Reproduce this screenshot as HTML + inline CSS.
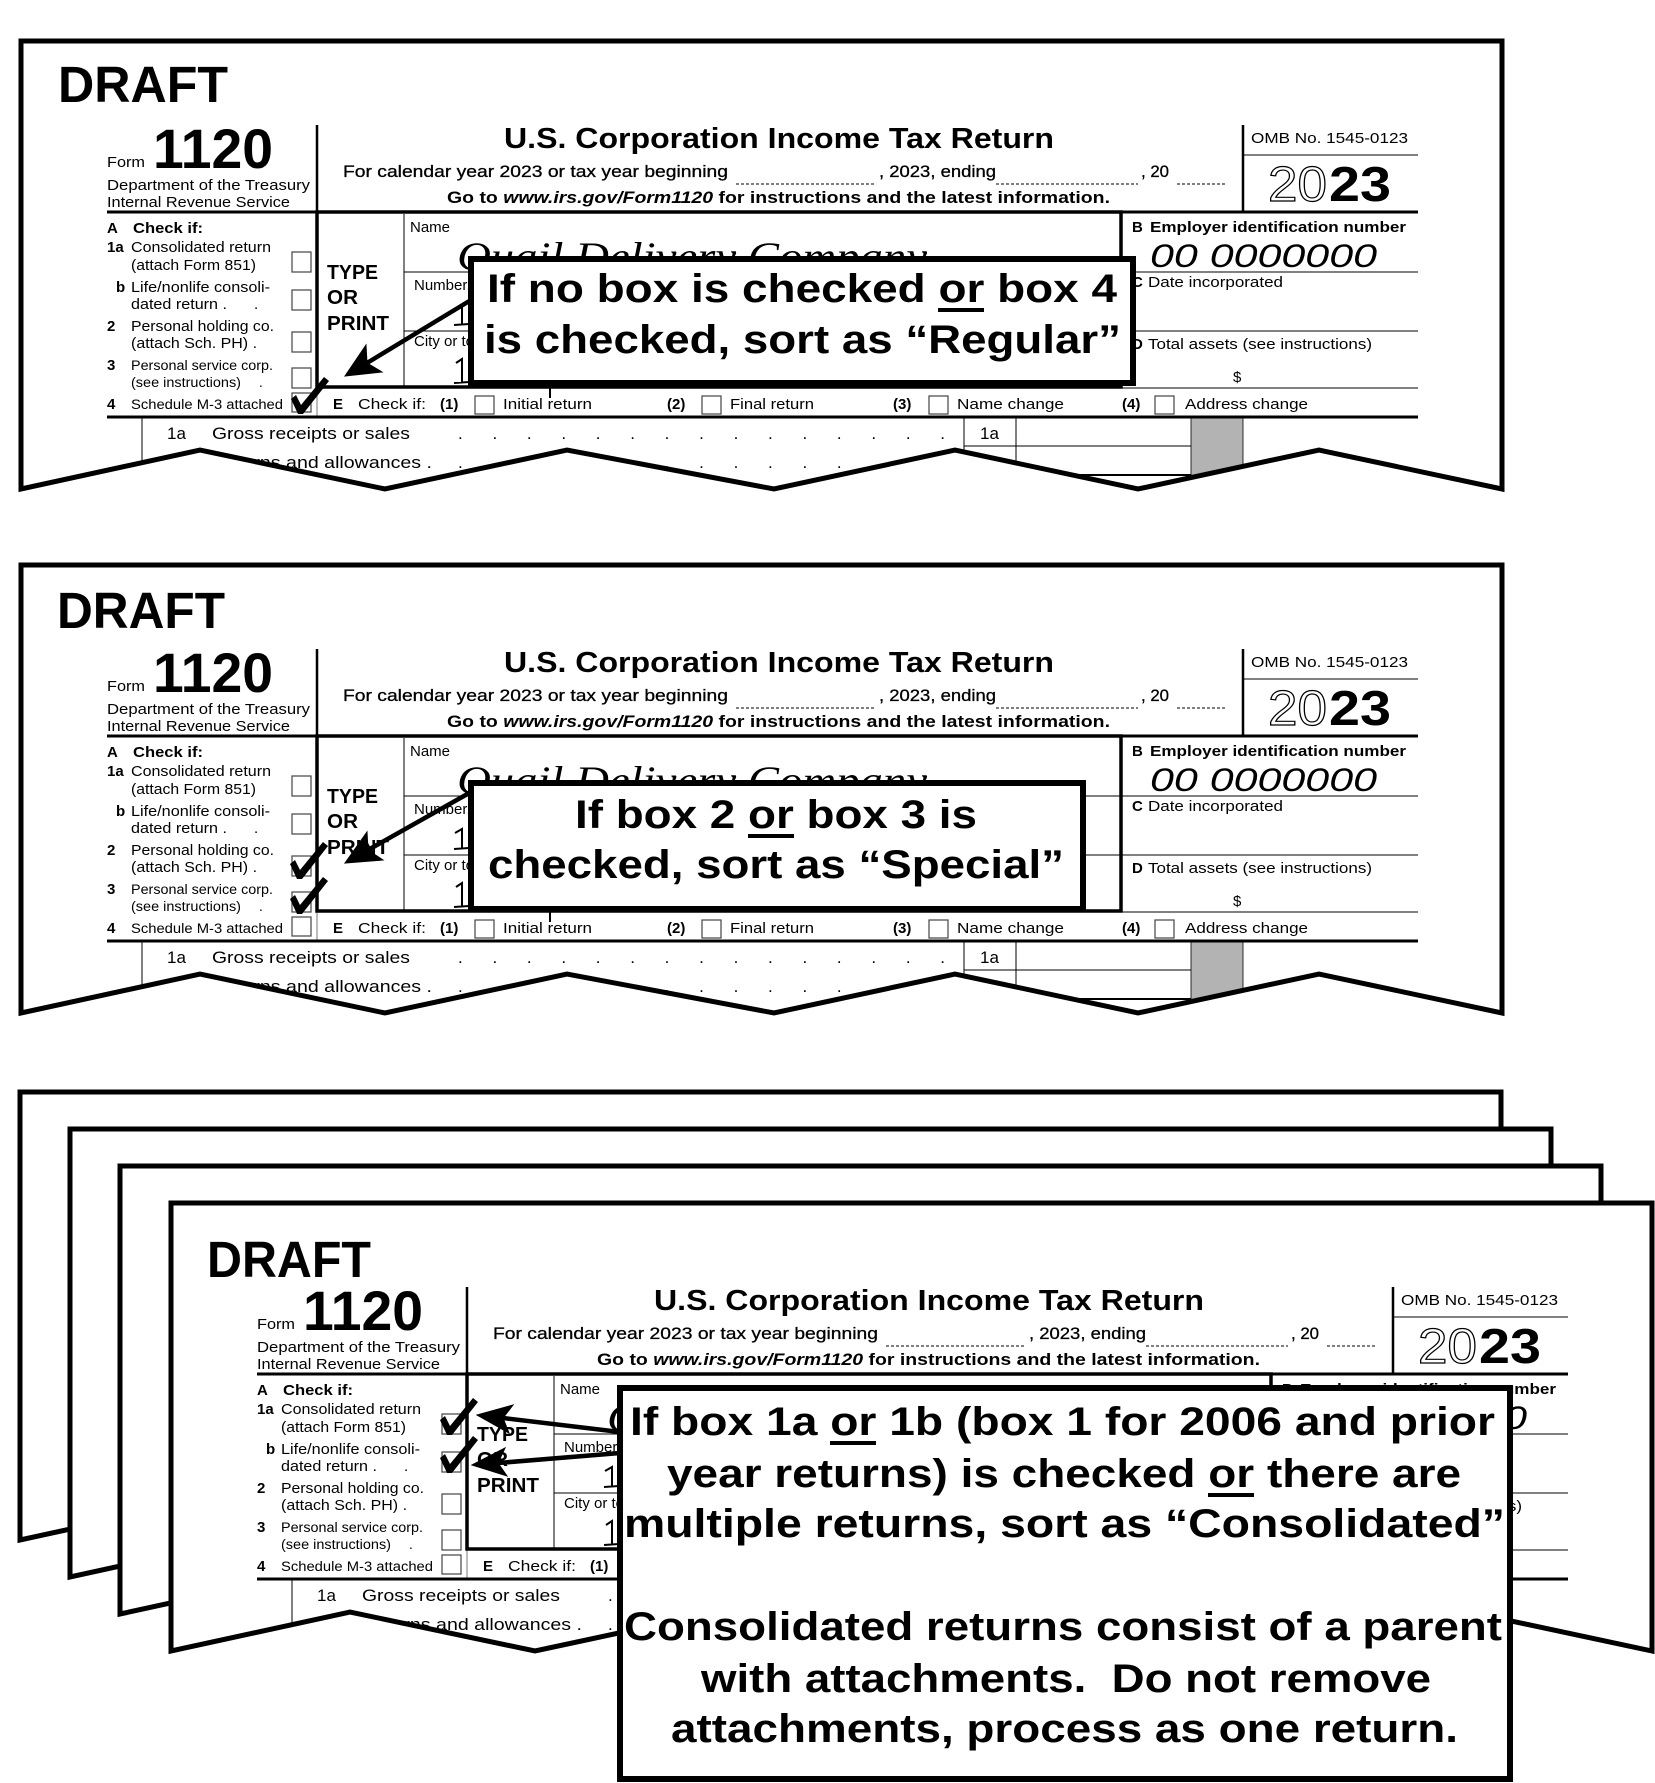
<!DOCTYPE html>
<html>
<head>
<meta charset="utf-8">
<style>
html,body{margin:0;padding:0;background:#fff;}
svg{display:block;}
text{font-family:"Liberation Sans",Arial,sans-serif;fill:#000;}
.hw{font-family:"Liberation Serif",serif;font-style:italic;}
</style>
</head>
<body>
<svg width="1655" height="1783" viewBox="0 0 1655 1783" xmlns="http://www.w3.org/2000/svg">
<defs>
<clipPath id="fc" clipPathUnits="userSpaceOnUse">
<polygon points="21,41 1502,41 1502,489 1319,450 1138,489 955,450 774,489 567,450 385,489 200,450 21,489"/>
</clipPath>
</defs>
<rect x="0" y="0" width="1655" height="1783" fill="#fff"/>

<!-- ================= FRAME 1 ================= -->
<g>
<polygon points="21,41 1502,41 1502,489 1319,450 1138,489 955,450 774,489 567,450 385,489 200,450 21,489" fill="#fff"/>
<g clip-path="url(#fc)">
<text x="107" y="167" font-size="15" textLength="38" lengthAdjust="spacingAndGlyphs">Form</text>
<text x="153" y="168" font-size="56" font-weight="bold" textLength="120" lengthAdjust="spacingAndGlyphs">1120</text>
<text x="107" y="190" font-size="15" textLength="203" lengthAdjust="spacingAndGlyphs">Department of the Treasury</text>
<text x="107" y="207" font-size="15" textLength="183" lengthAdjust="spacingAndGlyphs">Internal Revenue Service</text>
<text x="504" y="148" font-size="29" font-weight="bold" textLength="550" lengthAdjust="spacingAndGlyphs">U.S. Corporation Income Tax Return</text>
<text x="343" y="177" font-size="17" stroke="#000" stroke-width="0.3" textLength="385" lengthAdjust="spacingAndGlyphs">For calendar year 2023 or tax year beginning</text>
<text x="879" y="177" font-size="17" stroke="#000" stroke-width="0.3" textLength="117" lengthAdjust="spacingAndGlyphs">, 2023, ending</text>
<text x="1141" y="177" font-size="17" stroke="#000" stroke-width="0.3" textLength="28" lengthAdjust="spacingAndGlyphs">, 20</text>
<text x="447" y="203" font-size="17" font-weight="bold" textLength="663" lengthAdjust="spacingAndGlyphs">Go to <tspan font-style="italic">www.irs.gov/Form1120</tspan> for instructions and the latest information.</text>
<text x="1251" y="143" font-size="15" textLength="157" lengthAdjust="spacingAndGlyphs">OMB No. 1545-0123</text>
<text x="1268" y="201" font-size="49" stroke="#000" stroke-width="1.2" style="fill:#fff" textLength="59" lengthAdjust="spacingAndGlyphs">20</text>
<text x="1329" y="201" font-size="49" font-weight="bold" textLength="62" lengthAdjust="spacingAndGlyphs">23</text>
<g fill="none" stroke="#000">
<line x1="317" y1="125" x2="317" y2="212" stroke-width="2.5"/>
<line x1="1243" y1="125" x2="1243" y2="212" stroke-width="2.5"/>
<line x1="1243" y1="155" x2="1418" y2="155" stroke-width="1"/>
<line x1="736" y1="184" x2="876" y2="184" stroke-width="1" stroke-dasharray="3 2"/>
<line x1="996" y1="184" x2="1138" y2="184" stroke-width="1" stroke-dasharray="3 2"/>
<line x1="1177" y1="184" x2="1225" y2="184" stroke-width="1" stroke-dasharray="3 2"/>
<line x1="107" y1="212" x2="1418" y2="212" stroke-width="3"/>
</g>
<text x="107" y="233" font-size="15" font-weight="bold">A</text>
<text x="133" y="233" font-size="15" font-weight="bold" textLength="70" lengthAdjust="spacingAndGlyphs">Check if:</text>
<text x="107" y="252" font-size="15" font-weight="bold">1a</text>
<text x="131" y="252" font-size="15" textLength="140" lengthAdjust="spacingAndGlyphs">Consolidated return</text>
<text x="131" y="270" font-size="15" textLength="125" lengthAdjust="spacingAndGlyphs">(attach Form 851)</text>
<text x="116" y="292" font-size="15" font-weight="bold">b</text>
<text x="131" y="292" font-size="15" textLength="139" lengthAdjust="spacingAndGlyphs">Life/nonlife consoli-</text>
<text x="131" y="309" font-size="15" textLength="96" lengthAdjust="spacingAndGlyphs">dated return .</text>
<text x="254" y="309" font-size="15">.</text>
<text x="107" y="331" font-size="15" font-weight="bold">2</text>
<text x="131" y="331" font-size="15" textLength="143" lengthAdjust="spacingAndGlyphs">Personal holding co.</text>
<text x="131" y="348" font-size="15" textLength="126" lengthAdjust="spacingAndGlyphs">(attach Sch. PH) .</text>
<text x="107" y="370" font-size="15" font-weight="bold">3</text>
<text x="131" y="370" font-size="13.5" textLength="142" lengthAdjust="spacingAndGlyphs">Personal service corp.</text>
<text x="131" y="387" font-size="13.5" textLength="110" lengthAdjust="spacingAndGlyphs">(see instructions)</text>
<text x="259" y="387" font-size="13.5">.</text>
<text x="107" y="409" font-size="15" font-weight="bold">4</text>
<text x="131" y="409" font-size="13.5" textLength="152" lengthAdjust="spacingAndGlyphs">Schedule M-3 attached</text>
<g fill="none" stroke="#444" stroke-width="1.2">
<rect x="292" y="252" width="19" height="20"/>
<rect x="292" y="290" width="19" height="20"/>
<rect x="292" y="332" width="19" height="20"/>
<rect x="292" y="368" width="19" height="20"/>
<rect x="292" y="393" width="19" height="19"/>
<rect x="475" y="396" width="19" height="18"/>
<rect x="702" y="396" width="19" height="18"/>
<rect x="929" y="396" width="19" height="18"/>
<rect x="1155" y="396" width="19" height="18"/>
</g>
<text x="327" y="279" font-size="20" font-weight="bold" textLength="51" lengthAdjust="spacingAndGlyphs">TYPE</text>
<text x="327" y="304" font-size="20" font-weight="bold" textLength="31" lengthAdjust="spacingAndGlyphs">OR</text>
<text x="327" y="330" font-size="20" font-weight="bold" textLength="62" lengthAdjust="spacingAndGlyphs">PRINT</text>
<text x="410" y="232" font-size="15">Name</text>
<text class="hw" x="457" y="270" font-size="40" textLength="470" lengthAdjust="spacingAndGlyphs">Quail Delivery Company</text>
<text x="414" y="290" font-size="15">Number, street, and room or suite no.</text>
<text x="414" y="346" font-size="15">City or town, state or province</text>
<text x="1132" y="232" font-size="15" font-weight="bold">B</text>
<text x="1150" y="232" font-size="15" font-weight="bold" textLength="256" lengthAdjust="spacingAndGlyphs">Employer identification number</text>
<text x="1150" y="267" font-size="32" font-style="italic" textLength="227" lengthAdjust="spacingAndGlyphs">00 0000000</text>
<text x="1132" y="287" font-size="15" font-weight="bold">C</text>
<text x="1148" y="287" font-size="15" textLength="135" lengthAdjust="spacingAndGlyphs">Date incorporated</text>
<text x="1132" y="349" font-size="15" font-weight="bold">D</text>
<text x="1148" y="349" font-size="15" textLength="224" lengthAdjust="spacingAndGlyphs">Total assets (see instructions)</text>
<text x="1233" y="382" font-size="15">$</text>
<text x="333" y="409" font-size="15" font-weight="bold">E</text>
<text x="358" y="409" font-size="15" textLength="68" lengthAdjust="spacingAndGlyphs">Check if:</text>
<text x="440" y="409" font-size="15" font-weight="bold">(1)</text>
<text x="503" y="409" font-size="15" textLength="89" lengthAdjust="spacingAndGlyphs">Initial return</text>
<text x="667" y="409" font-size="15" font-weight="bold">(2)</text>
<text x="730" y="409" font-size="15" textLength="84" lengthAdjust="spacingAndGlyphs">Final return</text>
<text x="893" y="409" font-size="15" font-weight="bold">(3)</text>
<text x="957" y="409" font-size="15" textLength="107" lengthAdjust="spacingAndGlyphs">Name change</text>
<text x="1122" y="409" font-size="15" font-weight="bold">(4)</text>
<text x="1185" y="409" font-size="15" textLength="123" lengthAdjust="spacingAndGlyphs">Address change</text>
<text x="167" y="439" font-size="17">1a</text>
<text x="212" y="439" font-size="17" textLength="198" lengthAdjust="spacingAndGlyphs">Gross receipts or sales</text>
<text x="458" y="439" font-size="17" textLength="487" lengthAdjust="spacing">. . . . . . . . . . . . . . .</text>
<text x="980" y="439" font-size="17">1a</text>
<text x="167" y="468" font-size="17">b</text>
<text x="212" y="468" font-size="17" textLength="220" lengthAdjust="spacingAndGlyphs">Returns and allowances .</text>
<text x="458" y="468" font-size="17" textLength="487" lengthAdjust="spacing">. . . . . . . . . . . . . . .</text>
<rect x="1191" y="418" width="52" height="80" fill="#b3b3b3" stroke="#000" stroke-width="0.8"/>
<g fill="none" stroke="#000">
<line x1="317" y1="388" x2="317" y2="417" stroke="#777" stroke-width="1"/>
<rect x="317" y="212" width="804" height="175" stroke-width="3.5"/>
<line x1="404" y1="214" x2="404" y2="386" stroke-width="1"/>
<line x1="404" y1="272" x2="1121" y2="272" stroke-width="1"/>
<line x1="404" y1="331" x2="1121" y2="331" stroke-width="1"/>
<line x1="1121" y1="272" x2="1418" y2="272" stroke-width="1"/>
<line x1="1121" y1="331" x2="1418" y2="331" stroke-width="1"/>
<line x1="1121" y1="388" x2="1418" y2="388" stroke-width="1"/>
<line x1="107" y1="417" x2="1418" y2="417" stroke-width="3"/>
<line x1="142" y1="418" x2="142" y2="495" stroke-width="1"/>
<line x1="964" y1="418" x2="964" y2="495" stroke-width="1"/>
<line x1="1016" y1="418" x2="1016" y2="495" stroke-width="1"/>
<line x1="964" y1="446" x2="1191" y2="446" stroke-width="1"/>
<line x1="1016" y1="475" x2="1191" y2="475" stroke-width="2"/>
<path d="M455,309 L462,305 L462,324 M454,325 L469,324 M456,363 L462,359 L462,382 M454,383 L469,382" stroke-width="2"/>
<line x1="550" y1="386" x2="550" y2="398" stroke-width="2"/>
</g>
</g>
<text x="58" y="102" font-size="51" font-weight="bold" textLength="170" lengthAdjust="spacingAndGlyphs">DRAFT</text>
<polygon points="21,41 1502,41 1502,489 1319,450 1138,489 955,450 774,489 567,450 385,489 200,450 21,489" fill="none" stroke="#000" stroke-width="5" stroke-linejoin="miter"/>
</g>

<!-- ================= FRAME 2 ================= -->
<g transform="translate(0,524)">
<polygon points="21,41 1502,41 1502,489 1319,450 1138,489 955,450 774,489 567,450 385,489 200,450 21,489" fill="#fff"/>
<g clip-path="url(#fc)">
<text x="107" y="167" font-size="15" textLength="38" lengthAdjust="spacingAndGlyphs">Form</text>
<text x="153" y="168" font-size="56" font-weight="bold" textLength="120" lengthAdjust="spacingAndGlyphs">1120</text>
<text x="107" y="190" font-size="15" textLength="203" lengthAdjust="spacingAndGlyphs">Department of the Treasury</text>
<text x="107" y="207" font-size="15" textLength="183" lengthAdjust="spacingAndGlyphs">Internal Revenue Service</text>
<text x="504" y="148" font-size="29" font-weight="bold" textLength="550" lengthAdjust="spacingAndGlyphs">U.S. Corporation Income Tax Return</text>
<text x="343" y="177" font-size="17" stroke="#000" stroke-width="0.3" textLength="385" lengthAdjust="spacingAndGlyphs">For calendar year 2023 or tax year beginning</text>
<text x="879" y="177" font-size="17" stroke="#000" stroke-width="0.3" textLength="117" lengthAdjust="spacingAndGlyphs">, 2023, ending</text>
<text x="1141" y="177" font-size="17" stroke="#000" stroke-width="0.3" textLength="28" lengthAdjust="spacingAndGlyphs">, 20</text>
<text x="447" y="203" font-size="17" font-weight="bold" textLength="663" lengthAdjust="spacingAndGlyphs">Go to <tspan font-style="italic">www.irs.gov/Form1120</tspan> for instructions and the latest information.</text>
<text x="1251" y="143" font-size="15" textLength="157" lengthAdjust="spacingAndGlyphs">OMB No. 1545-0123</text>
<text x="1268" y="201" font-size="49" stroke="#000" stroke-width="1.2" style="fill:#fff" textLength="59" lengthAdjust="spacingAndGlyphs">20</text>
<text x="1329" y="201" font-size="49" font-weight="bold" textLength="62" lengthAdjust="spacingAndGlyphs">23</text>
<g fill="none" stroke="#000">
<line x1="317" y1="125" x2="317" y2="212" stroke-width="2.5"/>
<line x1="1243" y1="125" x2="1243" y2="212" stroke-width="2.5"/>
<line x1="1243" y1="155" x2="1418" y2="155" stroke-width="1"/>
<line x1="736" y1="184" x2="876" y2="184" stroke-width="1" stroke-dasharray="3 2"/>
<line x1="996" y1="184" x2="1138" y2="184" stroke-width="1" stroke-dasharray="3 2"/>
<line x1="1177" y1="184" x2="1225" y2="184" stroke-width="1" stroke-dasharray="3 2"/>
<line x1="107" y1="212" x2="1418" y2="212" stroke-width="3"/>
</g>
<text x="107" y="233" font-size="15" font-weight="bold">A</text>
<text x="133" y="233" font-size="15" font-weight="bold" textLength="70" lengthAdjust="spacingAndGlyphs">Check if:</text>
<text x="107" y="252" font-size="15" font-weight="bold">1a</text>
<text x="131" y="252" font-size="15" textLength="140" lengthAdjust="spacingAndGlyphs">Consolidated return</text>
<text x="131" y="270" font-size="15" textLength="125" lengthAdjust="spacingAndGlyphs">(attach Form 851)</text>
<text x="116" y="292" font-size="15" font-weight="bold">b</text>
<text x="131" y="292" font-size="15" textLength="139" lengthAdjust="spacingAndGlyphs">Life/nonlife consoli-</text>
<text x="131" y="309" font-size="15" textLength="96" lengthAdjust="spacingAndGlyphs">dated return .</text>
<text x="254" y="309" font-size="15">.</text>
<text x="107" y="331" font-size="15" font-weight="bold">2</text>
<text x="131" y="331" font-size="15" textLength="143" lengthAdjust="spacingAndGlyphs">Personal holding co.</text>
<text x="131" y="348" font-size="15" textLength="126" lengthAdjust="spacingAndGlyphs">(attach Sch. PH) .</text>
<text x="107" y="370" font-size="15" font-weight="bold">3</text>
<text x="131" y="370" font-size="13.5" textLength="142" lengthAdjust="spacingAndGlyphs">Personal service corp.</text>
<text x="131" y="387" font-size="13.5" textLength="110" lengthAdjust="spacingAndGlyphs">(see instructions)</text>
<text x="259" y="387" font-size="13.5">.</text>
<text x="107" y="409" font-size="15" font-weight="bold">4</text>
<text x="131" y="409" font-size="13.5" textLength="152" lengthAdjust="spacingAndGlyphs">Schedule M-3 attached</text>
<g fill="none" stroke="#444" stroke-width="1.2">
<rect x="292" y="252" width="19" height="20"/>
<rect x="292" y="290" width="19" height="20"/>
<rect x="292" y="332" width="19" height="20"/>
<rect x="292" y="368" width="19" height="20"/>
<rect x="292" y="393" width="19" height="19"/>
<rect x="475" y="396" width="19" height="18"/>
<rect x="702" y="396" width="19" height="18"/>
<rect x="929" y="396" width="19" height="18"/>
<rect x="1155" y="396" width="19" height="18"/>
</g>
<text x="327" y="279" font-size="20" font-weight="bold" textLength="51" lengthAdjust="spacingAndGlyphs">TYPE</text>
<text x="327" y="304" font-size="20" font-weight="bold" textLength="31" lengthAdjust="spacingAndGlyphs">OR</text>
<text x="327" y="330" font-size="20" font-weight="bold" textLength="62" lengthAdjust="spacingAndGlyphs">PRINT</text>
<text x="410" y="232" font-size="15">Name</text>
<text class="hw" x="457" y="270" font-size="40" textLength="470" lengthAdjust="spacingAndGlyphs">Quail Delivery Company</text>
<text x="414" y="290" font-size="15">Number, street, and room or suite no.</text>
<text x="414" y="346" font-size="15">City or town, state or province</text>
<text x="1132" y="232" font-size="15" font-weight="bold">B</text>
<text x="1150" y="232" font-size="15" font-weight="bold" textLength="256" lengthAdjust="spacingAndGlyphs">Employer identification number</text>
<text x="1150" y="267" font-size="32" font-style="italic" textLength="227" lengthAdjust="spacingAndGlyphs">00 0000000</text>
<text x="1132" y="287" font-size="15" font-weight="bold">C</text>
<text x="1148" y="287" font-size="15" textLength="135" lengthAdjust="spacingAndGlyphs">Date incorporated</text>
<text x="1132" y="349" font-size="15" font-weight="bold">D</text>
<text x="1148" y="349" font-size="15" textLength="224" lengthAdjust="spacingAndGlyphs">Total assets (see instructions)</text>
<text x="1233" y="382" font-size="15">$</text>
<text x="333" y="409" font-size="15" font-weight="bold">E</text>
<text x="358" y="409" font-size="15" textLength="68" lengthAdjust="spacingAndGlyphs">Check if:</text>
<text x="440" y="409" font-size="15" font-weight="bold">(1)</text>
<text x="503" y="409" font-size="15" textLength="89" lengthAdjust="spacingAndGlyphs">Initial return</text>
<text x="667" y="409" font-size="15" font-weight="bold">(2)</text>
<text x="730" y="409" font-size="15" textLength="84" lengthAdjust="spacingAndGlyphs">Final return</text>
<text x="893" y="409" font-size="15" font-weight="bold">(3)</text>
<text x="957" y="409" font-size="15" textLength="107" lengthAdjust="spacingAndGlyphs">Name change</text>
<text x="1122" y="409" font-size="15" font-weight="bold">(4)</text>
<text x="1185" y="409" font-size="15" textLength="123" lengthAdjust="spacingAndGlyphs">Address change</text>
<text x="167" y="439" font-size="17">1a</text>
<text x="212" y="439" font-size="17" textLength="198" lengthAdjust="spacingAndGlyphs">Gross receipts or sales</text>
<text x="458" y="439" font-size="17" textLength="487" lengthAdjust="spacing">. . . . . . . . . . . . . . .</text>
<text x="980" y="439" font-size="17">1a</text>
<text x="167" y="468" font-size="17">b</text>
<text x="212" y="468" font-size="17" textLength="220" lengthAdjust="spacingAndGlyphs">Returns and allowances .</text>
<text x="458" y="468" font-size="17" textLength="487" lengthAdjust="spacing">. . . . . . . . . . . . . . .</text>
<rect x="1191" y="418" width="52" height="80" fill="#b3b3b3" stroke="#000" stroke-width="0.8"/>
<g fill="none" stroke="#000">
<line x1="317" y1="388" x2="317" y2="417" stroke="#777" stroke-width="1"/>
<rect x="317" y="212" width="804" height="175" stroke-width="3.5"/>
<line x1="404" y1="214" x2="404" y2="386" stroke-width="1"/>
<line x1="404" y1="272" x2="1121" y2="272" stroke-width="1"/>
<line x1="404" y1="331" x2="1121" y2="331" stroke-width="1"/>
<line x1="1121" y1="272" x2="1418" y2="272" stroke-width="1"/>
<line x1="1121" y1="331" x2="1418" y2="331" stroke-width="1"/>
<line x1="1121" y1="388" x2="1418" y2="388" stroke-width="1"/>
<line x1="107" y1="417" x2="1418" y2="417" stroke-width="3"/>
<line x1="142" y1="418" x2="142" y2="495" stroke-width="1"/>
<line x1="964" y1="418" x2="964" y2="495" stroke-width="1"/>
<line x1="1016" y1="418" x2="1016" y2="495" stroke-width="1"/>
<line x1="964" y1="446" x2="1191" y2="446" stroke-width="1"/>
<line x1="1016" y1="475" x2="1191" y2="475" stroke-width="2"/>
<path d="M455,309 L462,305 L462,324 M454,325 L469,324 M456,363 L462,359 L462,382 M454,383 L469,382" stroke-width="2"/>
<line x1="550" y1="386" x2="550" y2="398" stroke-width="2"/>
</g>
</g>
<text x="57" y="104" font-size="51" font-weight="bold" textLength="168" lengthAdjust="spacingAndGlyphs">DRAFT</text>
<polygon points="21,41 1502,41 1502,489 1319,450 1138,489 955,450 774,489 567,450 385,489 200,450 21,489" fill="none" stroke="#000" stroke-width="5" stroke-linejoin="miter"/>
</g>

<!-- ================= STACK FRAMES A,B,C ================= -->
<polygon transform="translate(-1,1051)" points="21,41 1502,41 1502,489 1319,450 1138,489 955,450 774,489 567,450 385,489 200,450 21,489" fill="#fff" stroke="#000" stroke-width="5"/>
<polygon transform="translate(49,1088)" points="21,41 1502,41 1502,489 1319,450 1138,489 955,450 774,489 567,450 385,489 200,450 21,489" fill="#fff" stroke="#000" stroke-width="5"/>
<polygon transform="translate(99,1125)" points="21,41 1502,41 1502,489 1319,450 1138,489 955,450 774,489 567,450 385,489 200,450 21,489" fill="#fff" stroke="#000" stroke-width="5"/>

<!-- ================= FRAME D ================= -->
<g transform="translate(150,1162)">
<polygon points="21,41 1502,41 1502,489 1319,450 1138,489 955,450 774,489 567,450 385,489 200,450 21,489" fill="#fff"/>
<g clip-path="url(#fc)">
<text x="107" y="167" font-size="15" textLength="38" lengthAdjust="spacingAndGlyphs">Form</text>
<text x="153" y="168" font-size="56" font-weight="bold" textLength="120" lengthAdjust="spacingAndGlyphs">1120</text>
<text x="107" y="190" font-size="15" textLength="203" lengthAdjust="spacingAndGlyphs">Department of the Treasury</text>
<text x="107" y="207" font-size="15" textLength="183" lengthAdjust="spacingAndGlyphs">Internal Revenue Service</text>
<text x="504" y="148" font-size="29" font-weight="bold" textLength="550" lengthAdjust="spacingAndGlyphs">U.S. Corporation Income Tax Return</text>
<text x="343" y="177" font-size="17" stroke="#000" stroke-width="0.3" textLength="385" lengthAdjust="spacingAndGlyphs">For calendar year 2023 or tax year beginning</text>
<text x="879" y="177" font-size="17" stroke="#000" stroke-width="0.3" textLength="117" lengthAdjust="spacingAndGlyphs">, 2023, ending</text>
<text x="1141" y="177" font-size="17" stroke="#000" stroke-width="0.3" textLength="28" lengthAdjust="spacingAndGlyphs">, 20</text>
<text x="447" y="203" font-size="17" font-weight="bold" textLength="663" lengthAdjust="spacingAndGlyphs">Go to <tspan font-style="italic">www.irs.gov/Form1120</tspan> for instructions and the latest information.</text>
<text x="1251" y="143" font-size="15" textLength="157" lengthAdjust="spacingAndGlyphs">OMB No. 1545-0123</text>
<text x="1268" y="201" font-size="49" stroke="#000" stroke-width="1.2" style="fill:#fff" textLength="59" lengthAdjust="spacingAndGlyphs">20</text>
<text x="1329" y="201" font-size="49" font-weight="bold" textLength="62" lengthAdjust="spacingAndGlyphs">23</text>
<g fill="none" stroke="#000">
<line x1="317" y1="125" x2="317" y2="212" stroke-width="2.5"/>
<line x1="1243" y1="125" x2="1243" y2="212" stroke-width="2.5"/>
<line x1="1243" y1="155" x2="1418" y2="155" stroke-width="1"/>
<line x1="736" y1="184" x2="876" y2="184" stroke-width="1" stroke-dasharray="3 2"/>
<line x1="996" y1="184" x2="1138" y2="184" stroke-width="1" stroke-dasharray="3 2"/>
<line x1="1177" y1="184" x2="1225" y2="184" stroke-width="1" stroke-dasharray="3 2"/>
<line x1="107" y1="212" x2="1418" y2="212" stroke-width="3"/>
</g>
<text x="107" y="233" font-size="15" font-weight="bold">A</text>
<text x="133" y="233" font-size="15" font-weight="bold" textLength="70" lengthAdjust="spacingAndGlyphs">Check if:</text>
<text x="107" y="252" font-size="15" font-weight="bold">1a</text>
<text x="131" y="252" font-size="15" textLength="140" lengthAdjust="spacingAndGlyphs">Consolidated return</text>
<text x="131" y="270" font-size="15" textLength="125" lengthAdjust="spacingAndGlyphs">(attach Form 851)</text>
<text x="116" y="292" font-size="15" font-weight="bold">b</text>
<text x="131" y="292" font-size="15" textLength="139" lengthAdjust="spacingAndGlyphs">Life/nonlife consoli-</text>
<text x="131" y="309" font-size="15" textLength="96" lengthAdjust="spacingAndGlyphs">dated return .</text>
<text x="254" y="309" font-size="15">.</text>
<text x="107" y="331" font-size="15" font-weight="bold">2</text>
<text x="131" y="331" font-size="15" textLength="143" lengthAdjust="spacingAndGlyphs">Personal holding co.</text>
<text x="131" y="348" font-size="15" textLength="126" lengthAdjust="spacingAndGlyphs">(attach Sch. PH) .</text>
<text x="107" y="370" font-size="15" font-weight="bold">3</text>
<text x="131" y="370" font-size="13.5" textLength="142" lengthAdjust="spacingAndGlyphs">Personal service corp.</text>
<text x="131" y="387" font-size="13.5" textLength="110" lengthAdjust="spacingAndGlyphs">(see instructions)</text>
<text x="259" y="387" font-size="13.5">.</text>
<text x="107" y="409" font-size="15" font-weight="bold">4</text>
<text x="131" y="409" font-size="13.5" textLength="152" lengthAdjust="spacingAndGlyphs">Schedule M-3 attached</text>
<g fill="none" stroke="#444" stroke-width="1.2">
<rect x="292" y="252" width="19" height="20"/>
<rect x="292" y="290" width="19" height="20"/>
<rect x="292" y="332" width="19" height="20"/>
<rect x="292" y="368" width="19" height="20"/>
<rect x="292" y="393" width="19" height="19"/>
<rect x="475" y="396" width="19" height="18"/>
<rect x="702" y="396" width="19" height="18"/>
<rect x="929" y="396" width="19" height="18"/>
<rect x="1155" y="396" width="19" height="18"/>
</g>
<text x="327" y="279" font-size="20" font-weight="bold" textLength="51" lengthAdjust="spacingAndGlyphs">TYPE</text>
<text x="327" y="304" font-size="20" font-weight="bold" textLength="31" lengthAdjust="spacingAndGlyphs">OR</text>
<text x="327" y="330" font-size="20" font-weight="bold" textLength="62" lengthAdjust="spacingAndGlyphs">PRINT</text>
<text x="410" y="232" font-size="15">Name</text>
<text class="hw" x="457" y="270" font-size="40" textLength="470" lengthAdjust="spacingAndGlyphs">Quail Delivery Company</text>
<text x="414" y="290" font-size="15">Number, street, and room or suite no.</text>
<text x="414" y="346" font-size="15">City or town, state or province</text>
<text x="1132" y="232" font-size="15" font-weight="bold">B</text>
<text x="1150" y="232" font-size="15" font-weight="bold" textLength="256" lengthAdjust="spacingAndGlyphs">Employer identification number</text>
<text x="1150" y="267" font-size="32" font-style="italic" textLength="227" lengthAdjust="spacingAndGlyphs">00 0000000</text>
<text x="1132" y="287" font-size="15" font-weight="bold">C</text>
<text x="1148" y="287" font-size="15" textLength="135" lengthAdjust="spacingAndGlyphs">Date incorporated</text>
<text x="1132" y="349" font-size="15" font-weight="bold">D</text>
<text x="1148" y="349" font-size="15" textLength="224" lengthAdjust="spacingAndGlyphs">Total assets (see instructions)</text>
<text x="1233" y="382" font-size="15">$</text>
<text x="333" y="409" font-size="15" font-weight="bold">E</text>
<text x="358" y="409" font-size="15" textLength="68" lengthAdjust="spacingAndGlyphs">Check if:</text>
<text x="440" y="409" font-size="15" font-weight="bold">(1)</text>
<text x="503" y="409" font-size="15" textLength="89" lengthAdjust="spacingAndGlyphs">Initial return</text>
<text x="667" y="409" font-size="15" font-weight="bold">(2)</text>
<text x="730" y="409" font-size="15" textLength="84" lengthAdjust="spacingAndGlyphs">Final return</text>
<text x="893" y="409" font-size="15" font-weight="bold">(3)</text>
<text x="957" y="409" font-size="15" textLength="107" lengthAdjust="spacingAndGlyphs">Name change</text>
<text x="1122" y="409" font-size="15" font-weight="bold">(4)</text>
<text x="1185" y="409" font-size="15" textLength="123" lengthAdjust="spacingAndGlyphs">Address change</text>
<text x="167" y="439" font-size="17">1a</text>
<text x="212" y="439" font-size="17" textLength="198" lengthAdjust="spacingAndGlyphs">Gross receipts or sales</text>
<text x="458" y="439" font-size="17" textLength="487" lengthAdjust="spacing">. . . . . . . . . . . . . . .</text>
<text x="980" y="439" font-size="17">1a</text>
<text x="167" y="468" font-size="17">b</text>
<text x="212" y="468" font-size="17" textLength="220" lengthAdjust="spacingAndGlyphs">Returns and allowances .</text>
<text x="458" y="468" font-size="17" textLength="487" lengthAdjust="spacing">. . . . . . . . . . . . . . .</text>
<rect x="1191" y="418" width="52" height="80" fill="#b3b3b3" stroke="#000" stroke-width="0.8"/>
<g fill="none" stroke="#000">
<line x1="317" y1="388" x2="317" y2="417" stroke="#777" stroke-width="1"/>
<rect x="317" y="212" width="804" height="175" stroke-width="3.5"/>
<line x1="404" y1="214" x2="404" y2="386" stroke-width="1"/>
<line x1="404" y1="272" x2="1121" y2="272" stroke-width="1"/>
<line x1="404" y1="331" x2="1121" y2="331" stroke-width="1"/>
<line x1="1121" y1="272" x2="1418" y2="272" stroke-width="1"/>
<line x1="1121" y1="331" x2="1418" y2="331" stroke-width="1"/>
<line x1="1121" y1="388" x2="1418" y2="388" stroke-width="1"/>
<line x1="107" y1="417" x2="1418" y2="417" stroke-width="3"/>
<line x1="142" y1="418" x2="142" y2="495" stroke-width="1"/>
<line x1="964" y1="418" x2="964" y2="495" stroke-width="1"/>
<line x1="1016" y1="418" x2="1016" y2="495" stroke-width="1"/>
<line x1="964" y1="446" x2="1191" y2="446" stroke-width="1"/>
<line x1="1016" y1="475" x2="1191" y2="475" stroke-width="2"/>
<path d="M455,309 L462,305 L462,324 M454,325 L469,324 M456,363 L462,359 L462,382 M454,383 L469,382" stroke-width="2"/>
</g>
</g>
<text x="57" y="115" font-size="51" font-weight="bold" textLength="164" lengthAdjust="spacingAndGlyphs">DRAFT</text>
<polygon points="21,41 1502,41 1502,489 1319,450 1138,489 955,450 774,489 567,450 385,489 200,450 21,489" fill="none" stroke="#000" stroke-width="5" stroke-linejoin="miter"/>
</g>

<!-- ================= CHECKMARKS ================= -->
<g fill="#000">
<path transform="translate(301,412)" d="M-10,-13 L-5,-17 L0,-7 L23,-35 L28,-31 L2,2 L-3,2 Z"/>
<path transform="translate(300,877)" d="M-10,-13 L-5,-17 L0,-7 L23,-35 L28,-31 L2,2 L-3,2 Z"/>
<path transform="translate(300,912)" d="M-10,-13 L-5,-17 L0,-7 L23,-35 L28,-31 L2,2 L-3,2 Z"/>
<path transform="translate(450,1433)" d="M-10,-13 L-5,-17 L0,-7 L23,-35 L28,-31 L2,2 L-3,2 Z"/>
<path transform="translate(450,1471)" d="M-10,-13 L-5,-17 L0,-7 L23,-35 L28,-31 L2,2 L-3,2 Z"/>
</g>

<!-- ================= ARROWS ================= -->
<g stroke="#000" stroke-width="4.5" fill="none">
<line x1="471" y1="300" x2="367" y2="363"/>
<line x1="471" y1="792" x2="368" y2="850"/>
<line x1="620" y1="1432" x2="503" y2="1418"/>
<line x1="620" y1="1453" x2="498" y2="1463"/>
</g>
<g fill="#000" stroke="#000" stroke-width="1">
<polygon points="345,376 366,345 367,363 382,372"/>
<polygon points="345,863 367,832 368,850 383,860"/>
<polygon points="477,1415 513,1405 503,1418 509,1433"/>
<polygon points="472,1465 505,1448 498,1463 507,1476"/>
</g>

<!-- ================= CALLOUTS ================= -->
<rect x="471" y="259" width="662" height="124" fill="#fff" stroke="#000" stroke-width="6"/>
<text x="487" y="302" font-size="40" font-weight="bold" textLength="630" lengthAdjust="spacingAndGlyphs">If no box is checked or box 4</text>
<rect x="938" y="308" width="46" height="4" fill="#000"/>
<text x="484" y="353" font-size="40" font-weight="bold" textLength="637" lengthAdjust="spacingAndGlyphs">is checked, sort as “Regular”</text>

<rect x="471" y="783" width="612" height="126" fill="#fff" stroke="#000" stroke-width="6"/>
<text x="575" y="828" font-size="40" font-weight="bold" textLength="402" lengthAdjust="spacingAndGlyphs">If box 2 or box 3 is</text>
<rect x="748" y="834" width="46" height="4" fill="#000"/>
<text x="488" y="878" font-size="40" font-weight="bold" textLength="576" lengthAdjust="spacingAndGlyphs">checked, sort as “Special”</text>

<rect x="620" y="1388" width="890" height="391" fill="#fff" stroke="#000" stroke-width="6"/>
<text x="630" y="1435" font-size="40" font-weight="bold" textLength="865" lengthAdjust="spacingAndGlyphs">If box 1a or 1b (box 1 for 2006 and prior</text>
<rect x="830" y="1441" width="46" height="4" fill="#000"/>
<text x="667" y="1487" font-size="40" font-weight="bold" textLength="794" lengthAdjust="spacingAndGlyphs">year returns) is checked or there are</text>
<rect x="1208" y="1493" width="46" height="4" fill="#000"/>
<text x="624" y="1537" font-size="40" font-weight="bold" textLength="881" lengthAdjust="spacingAndGlyphs">multiple returns, sort as “Consolidated”</text>
<text x="624" y="1640" font-size="40" font-weight="bold" textLength="878" lengthAdjust="spacingAndGlyphs">Consolidated returns consist of a parent</text>
<text x="701" y="1692" font-size="40" font-weight="bold" textLength="730" lengthAdjust="spacingAndGlyphs">with attachments.&#160; Do not remove</text>
<text x="671" y="1742" font-size="40" font-weight="bold" textLength="787" lengthAdjust="spacingAndGlyphs">attachments, process as one return.</text>
</svg>
</body>
</html>
